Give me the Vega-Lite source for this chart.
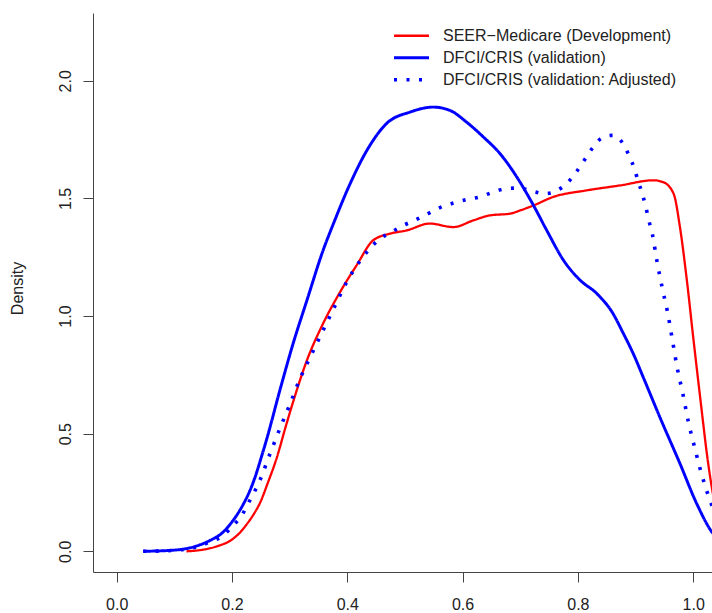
{
  "$schema": "https://vega.github.io/schema/vega-lite/v6.json",
  "width": 619,
  "height": 559,
  "autosize": {"type": "none"},
  "padding": {"left": 93, "top": 13, "right": 0, "bottom": 41},
  "background": "white",
  "config": {"view": {"stroke": null}, "font": "Liberation Sans"},
  "datasets": {
    "curves": [
      {"s": "SEER\u2212Medicare (Development)", "x": 0.121, "y": 0},
      {"s": "SEER\u2212Medicare (Development)", "x": 0.15, "y": 0.007},
      {"s": "SEER\u2212Medicare (Development)", "x": 0.175, "y": 0.022},
      {"s": "SEER\u2212Medicare (Development)", "x": 0.2, "y": 0.05},
      {"s": "SEER\u2212Medicare (Development)", "x": 0.214, "y": 0.08},
      {"s": "SEER\u2212Medicare (Development)", "x": 0.225, "y": 0.113},
      {"s": "SEER\u2212Medicare (Development)", "x": 0.237, "y": 0.155},
      {"s": "SEER\u2212Medicare (Development)", "x": 0.249, "y": 0.208},
      {"s": "SEER\u2212Medicare (Development)", "x": 0.262, "y": 0.29},
      {"s": "SEER\u2212Medicare (Development)", "x": 0.278, "y": 0.4},
      {"s": "SEER\u2212Medicare (Development)", "x": 0.292, "y": 0.52},
      {"s": "SEER\u2212Medicare (Development)", "x": 0.306, "y": 0.635},
      {"s": "SEER\u2212Medicare (Development)", "x": 0.33, "y": 0.812},
      {"s": "SEER\u2212Medicare (Development)", "x": 0.358, "y": 0.968},
      {"s": "SEER\u2212Medicare (Development)", "x": 0.387, "y": 1.1},
      {"s": "SEER\u2212Medicare (Development)", "x": 0.416, "y": 1.215},
      {"s": "SEER\u2212Medicare (Development)", "x": 0.445, "y": 1.322},
      {"s": "SEER\u2212Medicare (Development)", "x": 0.474, "y": 1.35},
      {"s": "SEER\u2212Medicare (Development)", "x": 0.503, "y": 1.364},
      {"s": "SEER\u2212Medicare (Development)", "x": 0.543, "y": 1.393},
      {"s": "SEER\u2212Medicare (Development)", "x": 0.584, "y": 1.378},
      {"s": "SEER\u2212Medicare (Development)", "x": 0.619, "y": 1.407},
      {"s": "SEER\u2212Medicare (Development)", "x": 0.648, "y": 1.428},
      {"s": "SEER\u2212Medicare (Development)", "x": 0.682, "y": 1.435},
      {"s": "SEER\u2212Medicare (Development)", "x": 0.7, "y": 1.449},
      {"s": "SEER\u2212Medicare (Development)", "x": 0.723, "y": 1.47},
      {"s": "SEER\u2212Medicare (Development)", "x": 0.757, "y": 1.506},
      {"s": "SEER\u2212Medicare (Development)", "x": 0.815, "y": 1.534},
      {"s": "SEER\u2212Medicare (Development)", "x": 0.873, "y": 1.555},
      {"s": "SEER\u2212Medicare (Development)", "x": 0.931, "y": 1.577},
      {"s": "SEER\u2212Medicare (Development)", "x": 0.948, "y": 1.569},
      {"s": "SEER\u2212Medicare (Development)", "x": 0.966, "y": 1.52},
      {"s": "SEER\u2212Medicare (Development)", "x": 0.977, "y": 1.378},
      {"s": "SEER\u2212Medicare (Development)", "x": 0.989, "y": 1.152},
      {"s": "SEER\u2212Medicare (Development)", "x": 1.0, "y": 0.91},
      {"s": "SEER\u2212Medicare (Development)", "x": 1.012, "y": 0.656},
      {"s": "SEER\u2212Medicare (Development)", "x": 1.026, "y": 0.373},
      {"s": "SEER\u2212Medicare (Development)", "x": 1.036, "y": 0.22},
      {"s": "SEER\u2212Medicare (Development)", "x": 1.05, "y": 0.08},
      {"s": "DFCI/CRIS (validation)", "x": 0.046, "y": 0},
      {"s": "DFCI/CRIS (validation)", "x": 0.1, "y": 0.005},
      {"s": "DFCI/CRIS (validation)", "x": 0.145, "y": 0.028},
      {"s": "DFCI/CRIS (validation)", "x": 0.165, "y": 0.05},
      {"s": "DFCI/CRIS (validation)", "x": 0.18, "y": 0.072},
      {"s": "DFCI/CRIS (validation)", "x": 0.19, "y": 0.095},
      {"s": "DFCI/CRIS (validation)", "x": 0.2, "y": 0.125},
      {"s": "DFCI/CRIS (validation)", "x": 0.21, "y": 0.16},
      {"s": "DFCI/CRIS (validation)", "x": 0.22, "y": 0.202},
      {"s": "DFCI/CRIS (validation)", "x": 0.23, "y": 0.252},
      {"s": "DFCI/CRIS (validation)", "x": 0.24, "y": 0.315},
      {"s": "DFCI/CRIS (validation)", "x": 0.25, "y": 0.393},
      {"s": "DFCI/CRIS (validation)", "x": 0.26, "y": 0.475},
      {"s": "DFCI/CRIS (validation)", "x": 0.283, "y": 0.684},
      {"s": "DFCI/CRIS (validation)", "x": 0.306, "y": 0.883},
      {"s": "DFCI/CRIS (validation)", "x": 0.33, "y": 1.067},
      {"s": "DFCI/CRIS (validation)", "x": 0.358, "y": 1.279},
      {"s": "DFCI/CRIS (validation)", "x": 0.376, "y": 1.393},
      {"s": "DFCI/CRIS (validation)", "x": 0.405, "y": 1.563},
      {"s": "DFCI/CRIS (validation)", "x": 0.434, "y": 1.704},
      {"s": "DFCI/CRIS (validation)", "x": 0.468, "y": 1.818},
      {"s": "DFCI/CRIS (validation)", "x": 0.509, "y": 1.867},
      {"s": "DFCI/CRIS (validation)", "x": 0.549, "y": 1.888},
      {"s": "DFCI/CRIS (validation)", "x": 0.578, "y": 1.874},
      {"s": "DFCI/CRIS (validation)", "x": 0.607, "y": 1.824},
      {"s": "DFCI/CRIS (validation)", "x": 0.636, "y": 1.761},
      {"s": "DFCI/CRIS (validation)", "x": 0.665, "y": 1.69},
      {"s": "DFCI/CRIS (validation)", "x": 0.694, "y": 1.591},
      {"s": "DFCI/CRIS (validation)", "x": 0.723, "y": 1.47},
      {"s": "DFCI/CRIS (validation)", "x": 0.746, "y": 1.364},
      {"s": "DFCI/CRIS (validation)", "x": 0.775, "y": 1.237},
      {"s": "DFCI/CRIS (validation)", "x": 0.804, "y": 1.152},
      {"s": "DFCI/CRIS (validation)", "x": 0.833, "y": 1.095},
      {"s": "DFCI/CRIS (validation)", "x": 0.861, "y": 1.01},
      {"s": "DFCI/CRIS (validation)", "x": 0.878, "y": 0.93},
      {"s": "DFCI/CRIS (validation)", "x": 0.896, "y": 0.84},
      {"s": "DFCI/CRIS (validation)", "x": 0.915, "y": 0.73},
      {"s": "DFCI/CRIS (validation)", "x": 0.942, "y": 0.571},
      {"s": "DFCI/CRIS (validation)", "x": 0.977, "y": 0.373},
      {"s": "DFCI/CRIS (validation)", "x": 1.006, "y": 0.203},
      {"s": "DFCI/CRIS (validation)", "x": 1.033, "y": 0.08},
      {"s": "DFCI/CRIS (validation)", "x": 1.06, "y": 0.025},
      {"s": "DFCI/CRIS (validation: Adjusted)", "x": 0.046, "y": 0},
      {"s": "DFCI/CRIS (validation: Adjusted)", "x": 0.1, "y": 0.004},
      {"s": "DFCI/CRIS (validation: Adjusted)", "x": 0.14, "y": 0.02},
      {"s": "DFCI/CRIS (validation: Adjusted)", "x": 0.162, "y": 0.04},
      {"s": "DFCI/CRIS (validation: Adjusted)", "x": 0.185, "y": 0.068},
      {"s": "DFCI/CRIS (validation: Adjusted)", "x": 0.202, "y": 0.11},
      {"s": "DFCI/CRIS (validation: Adjusted)", "x": 0.217, "y": 0.153},
      {"s": "DFCI/CRIS (validation: Adjusted)", "x": 0.228, "y": 0.203},
      {"s": "DFCI/CRIS (validation: Adjusted)", "x": 0.249, "y": 0.305},
      {"s": "DFCI/CRIS (validation: Adjusted)", "x": 0.266, "y": 0.415},
      {"s": "DFCI/CRIS (validation: Adjusted)", "x": 0.283, "y": 0.521},
      {"s": "DFCI/CRIS (validation: Adjusted)", "x": 0.301, "y": 0.628},
      {"s": "DFCI/CRIS (validation: Adjusted)", "x": 0.318, "y": 0.734},
      {"s": "DFCI/CRIS (validation: Adjusted)", "x": 0.338, "y": 0.837},
      {"s": "DFCI/CRIS (validation: Adjusted)", "x": 0.358, "y": 0.939},
      {"s": "DFCI/CRIS (validation: Adjusted)", "x": 0.379, "y": 1.045},
      {"s": "DFCI/CRIS (validation: Adjusted)", "x": 0.399, "y": 1.145},
      {"s": "DFCI/CRIS (validation: Adjusted)", "x": 0.425, "y": 1.244},
      {"s": "DFCI/CRIS (validation: Adjusted)", "x": 0.457, "y": 1.329},
      {"s": "DFCI/CRIS (validation: Adjusted)", "x": 0.477, "y": 1.357},
      {"s": "DFCI/CRIS (validation: Adjusted)", "x": 0.497, "y": 1.385},
      {"s": "DFCI/CRIS (validation: Adjusted)", "x": 0.517, "y": 1.407},
      {"s": "DFCI/CRIS (validation: Adjusted)", "x": 0.54, "y": 1.435},
      {"s": "DFCI/CRIS (validation: Adjusted)", "x": 0.561, "y": 1.461},
      {"s": "DFCI/CRIS (validation: Adjusted)", "x": 0.584, "y": 1.48},
      {"s": "DFCI/CRIS (validation: Adjusted)", "x": 0.607, "y": 1.495},
      {"s": "DFCI/CRIS (validation: Adjusted)", "x": 0.63, "y": 1.506},
      {"s": "DFCI/CRIS (validation: Adjusted)", "x": 0.652, "y": 1.526},
      {"s": "DFCI/CRIS (validation: Adjusted)", "x": 0.674, "y": 1.541},
      {"s": "DFCI/CRIS (validation: Adjusted)", "x": 0.697, "y": 1.544},
      {"s": "DFCI/CRIS (validation: Adjusted)", "x": 0.72, "y": 1.531},
      {"s": "DFCI/CRIS (validation: Adjusted)", "x": 0.743, "y": 1.52},
      {"s": "DFCI/CRIS (validation: Adjusted)", "x": 0.764, "y": 1.534},
      {"s": "DFCI/CRIS (validation: Adjusted)", "x": 0.783, "y": 1.569},
      {"s": "DFCI/CRIS (validation: Adjusted)", "x": 0.798, "y": 1.615},
      {"s": "DFCI/CRIS (validation: Adjusted)", "x": 0.811, "y": 1.662},
      {"s": "DFCI/CRIS (validation: Adjusted)", "x": 0.824, "y": 1.71},
      {"s": "DFCI/CRIS (validation: Adjusted)", "x": 0.84, "y": 1.754},
      {"s": "DFCI/CRIS (validation: Adjusted)", "x": 0.86, "y": 1.768},
      {"s": "DFCI/CRIS (validation: Adjusted)", "x": 0.879, "y": 1.73},
      {"s": "DFCI/CRIS (validation: Adjusted)", "x": 0.889, "y": 1.68},
      {"s": "DFCI/CRIS (validation: Adjusted)", "x": 0.898, "y": 1.626},
      {"s": "DFCI/CRIS (validation: Adjusted)", "x": 0.905, "y": 1.569},
      {"s": "DFCI/CRIS (validation: Adjusted)", "x": 0.912, "y": 1.517},
      {"s": "DFCI/CRIS (validation: Adjusted)", "x": 0.918, "y": 1.461},
      {"s": "DFCI/CRIS (validation: Adjusted)", "x": 0.923, "y": 1.407},
      {"s": "DFCI/CRIS (validation: Adjusted)", "x": 0.929, "y": 1.35},
      {"s": "DFCI/CRIS (validation: Adjusted)", "x": 0.937, "y": 1.235},
      {"s": "DFCI/CRIS (validation: Adjusted)", "x": 0.946, "y": 1.123},
      {"s": "DFCI/CRIS (validation: Adjusted)", "x": 0.956, "y": 1.01},
      {"s": "DFCI/CRIS (validation: Adjusted)", "x": 0.964, "y": 0.897},
      {"s": "DFCI/CRIS (validation: Adjusted)", "x": 0.972, "y": 0.783},
      {"s": "DFCI/CRIS (validation: Adjusted)", "x": 0.982, "y": 0.67},
      {"s": "DFCI/CRIS (validation: Adjusted)", "x": 0.991, "y": 0.557},
      {"s": "DFCI/CRIS (validation: Adjusted)", "x": 1.002, "y": 0.446},
      {"s": "DFCI/CRIS (validation: Adjusted)", "x": 1.014, "y": 0.333},
      {"s": "DFCI/CRIS (validation: Adjusted)", "x": 1.028, "y": 0.224},
      {"s": "DFCI/CRIS (validation: Adjusted)", "x": 1.045, "y": 0.12}
    ]
  },
  "layer": [
    {
      "mark": {"type": "rule", "color": "#ebebeb", "strokeWidth": 1},
      "encoding": {
        "y": {
          "datum": 0, "type": "quantitative", "title": "Density",
          "scale": {"domain": [-0.088, 2.288], "nice": false, "zero": false},
          "axis": {
            "values": [0, 0.5, 1.0, 1.5, 2.0], "format": ".1f", "grid": false,
            "tickSize": 10, "tickColor": "#444", "domainColor": "#444",
            "labelFontSize": 16, "labelColor": "#222", "labelAngle": -90, "labelAlign": "center",
            "labelBaseline": "alphabetic", "labelPadding": 13, "labelFlush": false, "labelOverlap": false,
            "title": "Density", "titleFontSize": 16, "titleFontWeight": "normal", "titleColor": "#222",
            "titleAngle": -90, "titleX": -71, "titleY": 275, "titleAlign": "center", "titleBaseline": "alphabetic"
          }
        }
      }
    },
    {
      "mark": {"type": "rule", "color": "#444", "strokeWidth": 1},
      "encoding": {
        "y": {
          "datum": 2.288, "type": "quantitative", "title": "Density",
          "scale": {"domain": [-0.088, 2.288], "nice": false, "zero": false},
          "axis": {
            "values": [0, 0.5, 1.0, 1.5, 2.0], "format": ".1f", "grid": false,
            "tickSize": 10, "tickColor": "#444", "domainColor": "#444",
            "labelFontSize": 16, "labelColor": "#222", "labelAngle": -90, "labelAlign": "center",
            "labelBaseline": "alphabetic", "labelPadding": 13, "labelFlush": false, "labelOverlap": false,
            "title": "Density", "titleFontSize": 16, "titleFontWeight": "normal", "titleColor": "#222",
            "titleAngle": -90, "titleX": -71, "titleY": 275, "titleAlign": "center", "titleBaseline": "alphabetic"
          }
        }
      }
    },
    {
      "data": {"name": "curves"},
      "mark": {"type": "line", "clip": true, "interpolate": "monotone", "strokeJoin": "round"},
      "encoding": {
        "x": {
          "field": "x", "type": "quantitative",
          "scale": {"domain": [-0.0411, 1.0326], "nice": false, "zero": false},
          "axis": {
            "values": [0, 0.2, 0.4, 0.6, 0.8, 1.0], "format": ".1f", "grid": false, "title": null,
            "tickSize": 10, "tickColor": "#444", "domainColor": "#444",
            "labelFontSize": 16, "labelColor": "#222", "labelPadding": 14, "labelBaseline": "top",
            "labelFlush": false, "labelOverlap": false
          }
        },
        "y": {
          "field": "y", "type": "quantitative", "title": "Density",
          "scale": {"domain": [-0.088, 2.288], "nice": false, "zero": false},
          "axis": {
            "values": [0, 0.5, 1.0, 1.5, 2.0], "format": ".1f", "grid": false,
            "tickSize": 10, "tickColor": "#444", "domainColor": "#444",
            "labelFontSize": 16, "labelColor": "#222", "labelAngle": -90, "labelAlign": "center",
            "labelBaseline": "alphabetic", "labelPadding": 13, "labelFlush": false, "labelOverlap": false,
            "title": "Density", "titleFontSize": 16, "titleFontWeight": "normal", "titleColor": "#222",
            "titleAngle": -90, "titleX": -71, "titleY": 275, "titleAlign": "center", "titleBaseline": "alphabetic"
          }
        },
        "color": {
          "field": "s", "type": "nominal",
          "scale": {
            "domain": ["SEER\u2212Medicare (Development)", "DFCI/CRIS (validation)", "DFCI/CRIS (validation: Adjusted)"],
            "range": ["#ff0000", "#0000ff", "#0000ff"]
          },
          "legend": {
            "title": null, "orient": "none", "legendX": 299, "legendY": 12,
            "symbolType": "stroke", "symbolSize": 1225, "labelFontSize": 16, "labelColor": "#222",
            "labelOffset": 12, "labelLimit": 0, "padding": 0, "rowPadding": 0, "clipHeight": 21.5, "symbolStrokeWidth": 3.5
          }
        },
        "strokeDash": {
          "field": "s", "type": "nominal",
          "scale": {
            "domain": ["SEER\u2212Medicare (Development)", "DFCI/CRIS (validation)", "DFCI/CRIS (validation: Adjusted)"],
            "range": [[1, 0], [1, 0], [3, 9.5]]
          },
          "legend": {
            "title": null, "orient": "none", "legendX": 299, "legendY": 12,
            "symbolType": "stroke", "symbolSize": 1225, "labelFontSize": 16, "labelColor": "#222",
            "labelOffset": 12, "labelLimit": 0, "padding": 0, "rowPadding": 0, "clipHeight": 21.5, "symbolStrokeWidth": 3.5
          }
        },
        "strokeWidth": {
          "field": "s", "type": "nominal",
          "scale": {
            "domain": ["SEER\u2212Medicare (Development)", "DFCI/CRIS (validation)", "DFCI/CRIS (validation: Adjusted)"],
            "range": [2.3, 3.6, 3.6]
          },
          "legend": null
        }
      }
    }
  ]
}
